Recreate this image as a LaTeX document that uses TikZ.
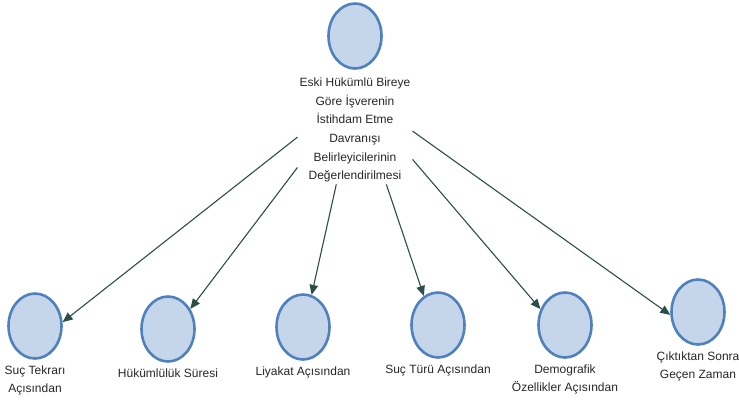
\documentclass[tikz,border=0pt]{standalone}
\usepackage{fontspec}
\setmainfont{Liberation Sans}
\usetikzlibrary{shapes.geometric}
\usetikzlibrary{positioning}
\usetikzlibrary{arrows.meta}
\usepackage{xcolor}
\definecolor{circfill}{RGB}{198,214,234}
\definecolor{circline}{RGB}{79,129,189}
\definecolor{arrline}{RGB}{44,78,72}

\begin{document}
\begin{tikzpicture}[x=1pt, y=-1pt]
        % ================= 样式 =================
        \tikzset{
            % 浅蓝色椭圆节点
            cnode/.style={ellipse, draw=circline, line width=2.6pt, fill=circfill, minimum width=53pt, minimum height=65pt, inner sep=0pt},
            % 文字节点
            ctext/.style={align=center, font=\fontsize{12}{18}\selectfont, inner sep=2pt, text=black!85},
            % 深色箭头
            arr_edge/.style={line width=1.1pt, arrline, -{Triangle[length=10pt,width=8.5pt]}}
        }
        \useasboundingbox (0,0) rectangle (739,400);

        % ================= 顶部节点 =================
        \node[cnode] (top) at (355,36) {};
        \node[ctext, below=6pt of top, font=\fontsize{12}{18.6}\selectfont] (desc)
            {Eski Hükümlü Bireye\\Göre İşverenin\\İstihdam Etme\\Davranışı\\Belirleyicilerinin\\Değerlendirilmesi};

        % ================= 底部节点 =================
        \node[cnode] (c1) at (35,326) {};
        \node[cnode] (c2) at (168,329) {};
        \node[cnode] (c3) at (303,327) {};
        \node[cnode] (c4) at (438,325) {};
        \node[cnode] (c5) at (565,325) {};
        \node[cnode] (c6) at (698,312) {};

        \node[ctext, below=4pt of c1] (l1) {Suç Tekrarı\\Açısından};
        \node[ctext, below=4pt of c2] (l2) {Hükümlülük Süresi};
        \node[ctext, below=4pt of c3] (l3) {Liyakat Açısından};
        \node[ctext, below=4pt of c4] (l4) {Suç Türü Açısından};
        \node[ctext, below=4pt of c5] (l5) {Demografik\\Özellikler Açısından};
        \node[ctext, below=4pt of c6] (l6) {Çıktıktan Sonra\\Geçen Zaman};

        % ================= 箭头 =================
        \draw[arr_edge] (desc.187) -- (c1.8);
        \draw[arr_edge] (desc.213) -- (c2.42);
        \draw[arr_edge] (desc.251) -- (c3.75);
        \draw[arr_edge] (desc.300) -- (c4.116);
        \draw[arr_edge] (desc.333) -- (c5.147);
        \draw[arr_edge] (desc.359) -- (c6.186);

    \end{tikzpicture}
\end{document}
